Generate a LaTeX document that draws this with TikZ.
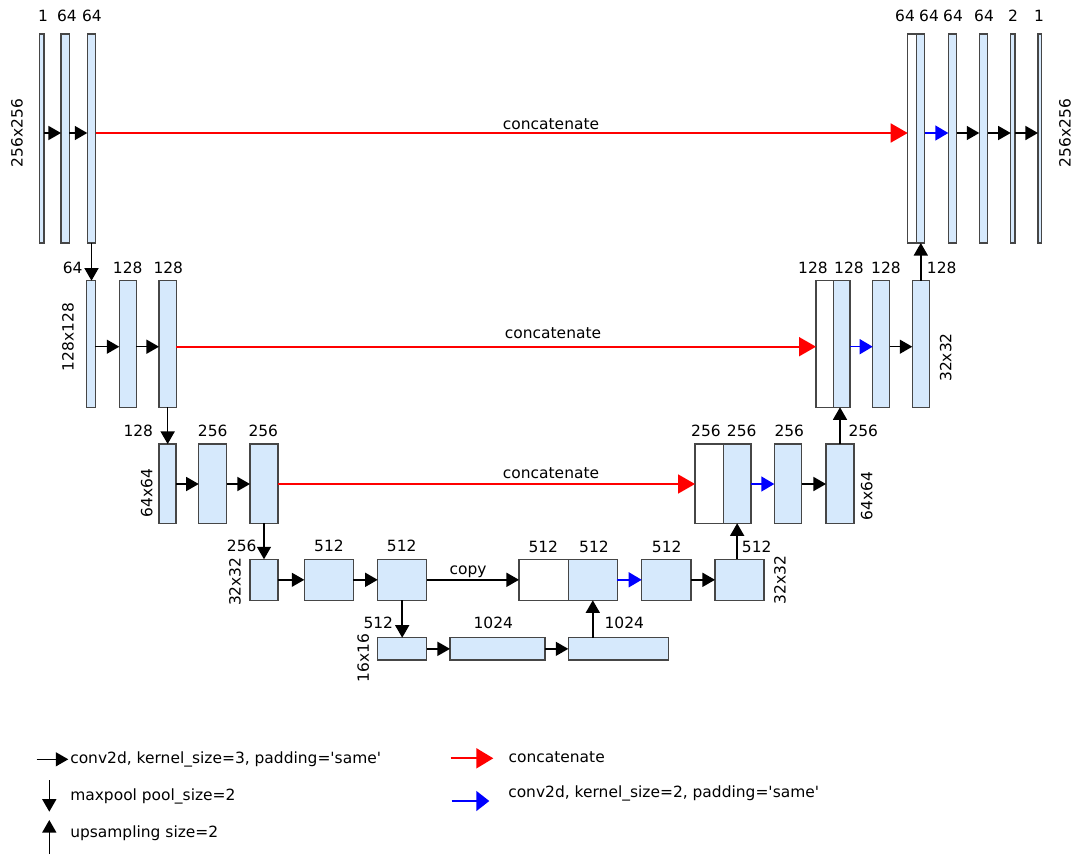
\documentclass[tikz,border=0pt]{standalone}
\usepackage{fontspec}
\newfontfamily\dvsans{DejaVu Sans}
\usetikzlibrary{arrows.meta}
\definecolor{boxfill}{RGB}{214,233,252}
\definecolor{boxline}{RGB}{70,70,70}
\newcommand\mkbox[6]{\node[#1, minimum width={(#5-#3)*0.75pt}, minimum height={(#6-#4)*0.75pt}] (#2) at ({(#3+#5)/2},{(#4+#6)/2}) {};}
\begin{document}
\begin{tikzpicture}[x=0.75pt,y=-0.75pt, font=\dvsans\fontsize{11.6}{14}\selectfont,
  blk/.style={draw=boxline, fill=boxfill, line width=0.8pt, inner sep=0pt, outer sep=0pt},
  wblk/.style={blk, fill=white},
  conv/.style={-{Triangle[length=9.4pt,width=10.5pt]}, line width=1.1pt, draw=black},
  cat/.style={-{Triangle[length=12.75pt,width=14.25pt]}, line width=1.4pt, draw=red},
  up2/.style={-{Triangle[length=9.75pt,width=11.25pt]}, line width=1.1pt, draw=blue},
  lcat/.style={-{Triangle[length=12.75pt,width=15pt]}, line width=1.4pt, draw=red},
  lup2/.style={-{Triangle[length=9.75pt,width=15pt]}, line width=1.2pt, draw=blue},
  lbl/.style={inner sep=0pt, text=black},
  dim/.style={inner sep=0pt, rotate=90, text=black}]
\useasboundingbox (0,0) rectangle (1075,854);
% ---------- level 1
\mkbox{blk}{A1}{39.7}{34}{44}{243}
\mkbox{blk}{A2}{61}{34}{69.3}{243}
\mkbox{blk}{A3}{87.3}{34}{95.7}{243}
\mkbox{wblk}{B1}{907.7}{34}{916.3}{243}
\mkbox{blk}{B2}{916.3}{34}{924.7}{243}
\mkbox{blk}{B3}{948.3}{34}{956.7}{243}
\mkbox{blk}{B4}{979.3}{34}{987.7}{243}
\mkbox{blk}{B5}{1010.7}{34}{1015}{243}
\mkbox{blk}{B6}{1038}{34}{1041.7}{243}
% ---------- level 2
\mkbox{blk}{C1}{86.7}{280.7}{95.3}{407.3}
\mkbox{blk}{C2}{119.3}{280.7}{136.3}{407.3}
\mkbox{blk}{C3}{159}{280.7}{176.3}{407.3}
\mkbox{wblk}{D1}{816}{280.7}{833.3}{407.3}
\mkbox{blk}{D2}{833.3}{280.7}{850}{407.3}
\mkbox{blk}{D3}{872.7}{280.7}{889.7}{407.3}
\mkbox{blk}{D4}{912.3}{280.7}{929.3}{407.3}
% ---------- level 3
\mkbox{blk}{E1}{159}{444}{176}{523.3}
\mkbox{blk}{E2}{198.7}{444}{226.7}{523.3}
\mkbox{blk}{E3}{250}{444}{278}{523.3}
\mkbox{wblk}{I1}{695}{444}{723.3}{523.3}
\mkbox{blk}{I2}{723.3}{444}{751}{523.3}
\mkbox{blk}{I3}{774.3}{444}{801.7}{523.3}
\mkbox{blk}{I4}{826}{444}{854}{523.3}
% ---------- level 4
\mkbox{blk}{F1}{250}{559.3}{278}{600.3}
\mkbox{blk}{F2}{304.3}{559.3}{353.3}{600.3}
\mkbox{blk}{F3}{377.7}{559.3}{426.7}{600.3}
\mkbox{wblk}{G1}{519}{559.3}{568.3}{600.3}
\mkbox{blk}{G2}{568.3}{559.3}{617.3}{600.3}
\mkbox{blk}{G3}{641.7}{559.3}{691}{600.3}
\mkbox{blk}{G4}{715}{559.3}{764}{600.3}
% ---------- level 5
\mkbox{blk}{H1}{377.3}{637.7}{426.7}{660}
\mkbox{blk}{H2}{450}{637.7}{545}{660}
\mkbox{blk}{H3}{568.3}{637.7}{668.3}{660}
% ---------- rows
\coordinate (r1) at (0,133);
\coordinate (r2) at (0,346.7);
\coordinate (r3) at (0,484);
% level 1 arrows
\draw[conv] (A1.east |- r1) -- (A2.west |- r1);
\draw[conv] (A2.east |- r1) -- (A3.west |- r1);
\draw[cat] (A3.east |- r1) -- (B1.west |- r1);
\draw[up2] (B2.east |- r1) -- (B3.west |- r1);
\draw[conv] (B3.east |- r1) -- (B4.west |- r1);
\draw[conv] (B4.east |- r1) -- (B5.west |- r1);
\draw[conv] (B5.east |- r1) -- (B6.west |- r1);
\node[lbl] (cat1) at (551,124) {concatenate};
% level 2 arrows
\draw[conv] (C1.east |- r2) -- (C2.west |- r2);
\draw[conv] (C2.east |- r2) -- (C3.west |- r2);
\draw[cat] (C3.east |- r2) -- (D1.west |- r2);
\draw[up2] (D2.east |- r2) -- (D3.west |- r2);
\draw[conv] (D3.east |- r2) -- (D4.west |- r2);
\node[lbl] (cat2) at (553,333) {concatenate};
% level 3 arrows
\draw[conv] (E1.east |- r3) -- (E2.west |- r3);
\draw[conv] (E2.east |- r3) -- (E3.west |- r3);
\draw[cat] (E3.east |- r3) -- (I1.west |- r3);
\draw[up2] (I2.east |- r3) -- (I3.west |- r3);
\draw[conv] (I3.east |- r3) -- (I4.west |- r3);
\node[lbl] (cat3) at (551,473) {concatenate};
% level 4 arrows
\draw[conv] (F1.east) -- (F2.west);
\draw[conv] (F2.east) -- (F3.west);
\draw[conv] (F3.east) -- (G1.west);
\node[lbl, anchor=base] (cpy) at (468,574) {copy};
\draw[up2] (G2.east) -- (G3.west);
\draw[conv] (G3.east) -- (G4.west);
% level 5 arrows
\draw[conv] (H1.east) -- (H2.west);
\draw[conv] (H2.east) -- (H3.west);
% down / up arrows
\draw[conv] (A3.south) -- (A3.south |- C1.north);
\draw[conv] (C3.south) -- (C3.south |- E1.north);
\draw[conv] (E3.south) -- (E3.south |- F1.north);
\draw[conv] (F3.south) -- (F3.south |- H1.north);
\draw[conv] (G2.south |- H3.north) -- (G2.south);
\draw[conv] (I2.south |- G4.north) -- (I2.south);
\draw[conv] (I4.north) -- (I4.north |- D2.south);
\draw[conv] (D4.north) -- (D4.north |- B2.south);
% ---------- channel labels
\node[lbl] (tA1) at (43,16) {1};
\node[lbl] (tA2) at (67,16) {64};
\node[lbl] (tA3) at (92,16) {64};
\node[lbl] (tB1) at (905,16) {64};
\node[lbl] (tB2) at (929,16) {64};
\node[lbl] (tB3) at (953,16) {64};
\node[lbl] (tB4) at (984,16) {64};
\node[lbl] (tB5) at (1013,16) {2};
\node[lbl] (tB6) at (1039,16) {1};
\node[lbl] (tC1) at (72.7,268) {64};
\node[lbl] (tC2) at (127.7,268) {128};
\node[lbl] (tC3) at (168.3,268) {128};
\node[lbl] (tD1) at (813,268) {128};
\node[lbl] (tD2) at (849,268) {128};
\node[lbl] (tD3) at (886,268) {128};
\node[lbl] (tD4) at (941.7,268) {128};
\node[lbl] (tE1) at (138.3,431) {128};
\node[lbl] (tE2) at (212.7,431) {256};
\node[lbl] (tE3) at (263.3,431) {256};
\node[lbl] (tI1) at (706,431) {256};
\node[lbl] (tI2) at (741.7,431) {256};
\node[lbl] (tI3) at (789.3,431) {256};
\node[lbl] (tI4) at (863.3,431) {256};
\node[lbl] (tF1) at (241.7,546) {256};
\node[lbl] (tF2) at (329,546) {512};
\node[lbl] (tF3) at (401.7,546) {512};
\node[lbl] (tG1) at (543.3,546.7) {512};
\node[lbl] (tG2) at (594,546.7) {512};
\node[lbl] (tG3) at (666.7,546.7) {512};
\node[lbl] (tG4) at (756.7,546.7) {512};
\node[lbl] (tH1) at (378.3,623.3) {512};
\node[lbl] (tH2) at (493.3,623.3) {1024};
\node[lbl] (tH3) at (624.3,623.3) {1024};
% ---------- size labels
\node[dim] (s1l) at (17,133) {256x256};
\node[dim] (s1r) at (1065,133) {256x256};
\node[dim] (s2l) at (68,337) {128x128};
\node[dim] (s2r) at (945.7,357.5) {32x32};
\node[dim] (s3l) at (146.7,493) {64x64};
\node[dim] (s3r) at (866.7,496) {64x64};
\node[dim] (s4l) at (235,581.7) {32x32};
\node[dim] (s4r) at (780,580) {32x32};
\node[dim] (s5l) at (363.3,658) {16x16};
% ---------- legend
\coordinate (l1s) at (36.7,759.3); \coordinate (l1e) at (68.3,759.3);
\draw[conv] (l1s) -- (l1e);
\node[lbl, anchor=west] (lt1) at (70,759.3) {conv2d, kernel\_size=3, padding='same'};
\coordinate (l2s) at (49.3,780); \coordinate (l2e) at (49.3,811.7);
\draw[conv] (l2s) -- (l2e);
\node[lbl, anchor=west] (lt2) at (70,796.7) {maxpool pool\_size=2};
\coordinate (l3s) at (49.3,854); \coordinate (l3e) at (49.3,820);
\draw[conv] (l3s) -- (l3e);
\node[lbl, anchor=west] (lt3) at (70,833) {upsampling size=2};
\coordinate (l4s) at (450.7,758.3); \coordinate (l4e) at (493.3,758.3);
\draw[lcat] (l4s) -- (l4e);
\node[lbl, anchor=west] (lt4) at (508.3,757) {concatenate};
\coordinate (l5s) at (451.7,801); \coordinate (l5e) at (489.3,801);
\draw[lup2] (l5s) -- (l5e);
\node[lbl, anchor=west] (lt5) at (508,793.3) {conv2d, kernel\_size=2, padding='same'};
\end{tikzpicture}
\end{document}
